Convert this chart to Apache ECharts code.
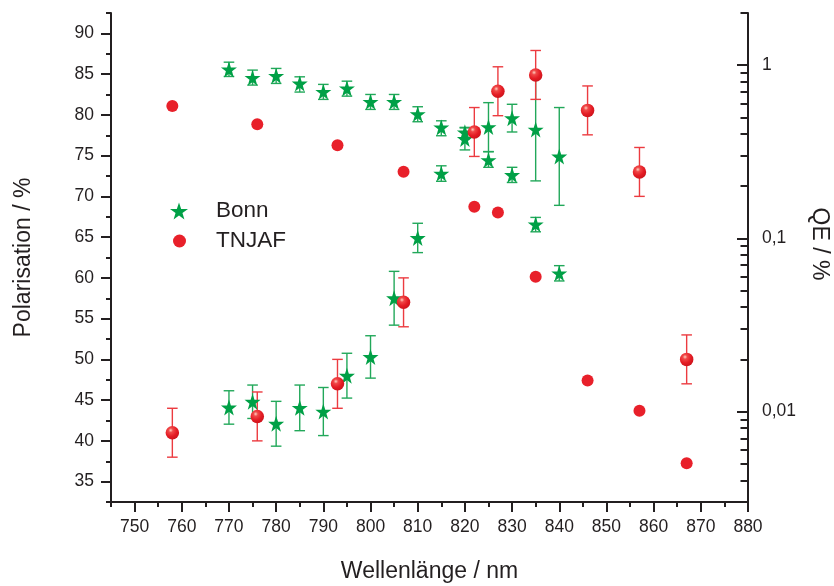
<!DOCTYPE html>
<html>
<head>
<meta charset="utf-8">
<script src="https://cdn.jsdelivr.net/npm/echarts@6/dist/echarts.min.js"></script>
<style>html,body{margin:0;padding:0;background:#fff}#chart{width:834px;height:586px}</style>
</head>
<body>
<div id="chart"></div>
<script>
// ---- data ----
const xBonn = [770, 775, 780, 785, 790, 795, 800, 805, 810, 815, 820, 825, 830, 835, 840];
const polBonn = [44.1, 44.8, 42.1, 44.05, 43.6, 48.0, 50.3, 57.5, 64.9, 72.8, 77.05, 78.5, 79.6, 78.2, 74.9];
const polBonnErr = [2.05, 2.05, 2.75, 2.8, 2.95, 2.75, 2.6, 3.3, 1.8, 0.95, 1.35, 3.0, 1.7, 6.3, 6.0];
const qeBonn = [0.945, 0.845, 0.868, 0.784, 0.701, 0.734, 0.614, 0.614, 0.522, 0.437, 0.409, 0.283, 0.232, 0.1205, 0.0628];
const qeBonnLow = [0.86, 0.767, 0.784, 0.699, 0.634, 0.662, 0.555, 0.555, 0.471, 0.391, 0.380, 0.257, 0.210, 0.109, 0.0567];
const qeBonnHigh = [1.04, 0.936, 0.957, 0.856, 0.774, 0.808, 0.677, 0.677, 0.575, 0.477, 0.437, 0.316, 0.257, 0.132, 0.0695];

const xTNJAF = [758, 776, 793, 807, 822, 827, 835, 846, 857, 867];
const polTNJAF = [41.0, 43.0, 47.0, 57.0, 77.9, 82.9, 84.9, 80.55, 73.0, 50.0];
const polTNJAFErr = [3, 3, 3, 3, 3, 3, 3, 3, 3, 3];
const qeTNJAF = [0.580, 0.455, 0.345, 0.242, 0.152, 0.141, 0.060, 0.0151, 0.0101, 0.00503];

const xTicks = [750, 760, 770, 780, 790, 800, 810, 820, 830, 840, 850, 860, 870, 880];
const xMinorTicks = [745, 755, 765, 775, 785, 795, 805, 815, 825, 835, 845, 855, 865, 875];
const polTicks = [35, 40, 45, 50, 55, 60, 65, 70, 75, 80, 85, 90];
const polMinorTicks = [32.5, 37.5, 42.5, 47.5, 52.5, 57.5, 62.5, 67.5, 72.5, 77.5, 82.5, 87.5, 92.5];
const qeTicks = [0.01, 0.1, 1];
const qeMinorTicks = [0.003, 0.004, 0.005, 0.006, 0.007, 0.008, 0.009,
  0.02, 0.03, 0.04, 0.05, 0.06, 0.07, 0.08, 0.09,
  0.2, 0.3, 0.4, 0.5, 0.6, 0.7, 0.8, 0.9, 2];

// ---- styling ----
const FONT = '"Liberation Sans", Arial, Helvetica, sans-serif';
const INK = '#231f20';
const GREEN = '#00a046';
const GREEN_BAR = '#22a85a';
const RED = '#e8202a';
const RED_BAR = '#ec3b40';
const STAR = 'path://M50,0 L61.8,35.1 L98.9,35.1 L68.8,57.3 L79.4,91.9 L50,70.5 L20.6,91.9 L31.2,57.3 L1.1,35.1 L38.2,35.1 Z';
const sphere = {
  type: 'radial', x: 0.38, y: 0.32, r: 0.75,
  colorStops: [
    {offset: 0, color: '#ffd0c0'},
    {offset: 0.22, color: '#f04848'},
    {offset: 0.6, color: '#e41c24'},
    {offset: 1, color: '#c8121a'}
  ]
};

function zip2(xs, ys) { return xs.map((x, i) => [x, ys[i]]); }
function errFromPm(xs, ys, es) { return xs.map((x, i) => [x, ys[i] - es[i], ys[i] + es[i]]); }
function errFromLH(xs, lo, hi) { return xs.map((x, i) => [x, lo[i], hi[i]]); }

function errRender(color) {
  return function (params, api) {
    const x = api.value(0), lo = api.value(1), hi = api.value(2);
    const p1 = api.coord([x, hi]);
    const p2 = api.coord([x, lo]);
    const w = 5.3;
    const style = {stroke: color, lineWidth: 1.4, fill: null};
    return {
      type: 'group',
      children: [
        {type: 'line', shape: {x1: p1[0], y1: p1[1], x2: p2[0], y2: p2[1]}, style: style},
        {type: 'line', shape: {x1: p1[0] - w, y1: p1[1], x2: p1[0] + w, y2: p1[1]}, style: style},
        {type: 'line', shape: {x1: p2[0] - w, y1: p2[1], x2: p2[0] + w, y2: p2[1]}, style: style}
      ]
    };
  };
}

const axisLine = {show: true, onZero: false, lineStyle: {color: INK, width: 2}};
const labelStyle = {color: INK, fontFamily: FONT, fontSize: 17.5};
const legendText = {color: INK, fontFamily: FONT, fontSize: 22.5, lineHeight: 24};

const chart = echarts.init(document.getElementById('chart'), null, {renderer: 'canvas'});
chart.setOption({
  backgroundColor: '#ffffff',
  animation: false,
  textStyle: {fontFamily: FONT},
  grid: {left: 111, right: 86, top: 13, bottom: 84, containLabel: false, outerBoundsMode: 'none'},
  legend: [
    {
      left: 170, top: 199, padding: 0, orient: 'vertical',
      itemWidth: 18, itemHeight: 18, selectedMode: false,
      textStyle: Object.assign({padding: [0, 0, 0, 23]}, legendText),
      data: [{name: 'Bonn', icon: STAR}]
    },
    {
      left: 173, top: 229, padding: 0, orient: 'vertical',
      itemWidth: 13, itemHeight: 13, selectedMode: false,
      textStyle: Object.assign({padding: [0, 0, 0, 25]}, legendText),
      data: [{name: 'TNJAF', icon: 'circle'}]
    }
  ],
  xAxis: [
    {
      type: 'value', min: 745, max: 880, position: 'bottom',
      name: 'Wellenlänge / nm', nameLocation: 'middle', nameGap: 58,
      nameTextStyle: {color: INK, fontFamily: FONT, fontSize: 23},
      axisLine: axisLine,
      axisTick: {show: true, inside: false, length: 10, lineStyle: {color: INK, width: 2}, customValues: xTicks},
      axisLabel: {show: true, margin: 16, customValues: xTicks, ...labelStyle},
      splitLine: {show: false}
    },
    {
      type: 'value', min: 745, max: 880, position: 'bottom',
      axisLine: {show: false},
      axisTick: {show: true, inside: false, length: 5, lineStyle: {color: INK, width: 2}, customValues: xMinorTicks},
      axisLabel: {show: false},
      splitLine: {show: false}
    }
  ],
  yAxis: [
    {
      type: 'value', min: 32.5, max: 92.5, position: 'left',
      name: 'Polarisation / %', nameLocation: 'middle', nameGap: 76,
      nameTextStyle: {color: INK, fontFamily: FONT, fontSize: 23},
      axisLine: axisLine,
      axisTick: {show: true, inside: false, length: 10, lineStyle: {color: INK, width: 2}, customValues: polTicks},
      axisLabel: {show: true, margin: 17, customValues: polTicks, ...labelStyle},
      splitLine: {show: false}
    },
    {
      type: 'value', min: 32.5, max: 92.5, position: 'left',
      axisLine: {show: false},
      axisTick: {show: true, inside: false, length: 5, lineStyle: {color: INK, width: 2}, customValues: polMinorTicks},
      axisLabel: {show: false},
      splitLine: {show: false}
    },
    {
      type: 'log', logBase: 10, min: 0.003, max: 2, position: 'right',
      axisLine: axisLine,
      axisTick: {show: true, inside: true, length: 11, lineStyle: {color: INK, width: 2}, customValues: qeTicks},
      axisLabel: {
        show: true, margin: 14, customValues: qeTicks, ...labelStyle,
        formatter: function (v) { return String(+v.toPrecision(6)).replace('.', ','); }
      },
      splitLine: {show: false}
    },
    {
      type: 'log', logBase: 10, min: 0.003, max: 2, position: 'right',
      axisLine: {show: false},
      axisTick: {show: true, inside: true, length: 7.5, lineStyle: {color: INK, width: 2}, customValues: qeMinorTicks},
      axisLabel: {show: false},
      splitLine: {show: false}
    }
  ],
  graphic: [{
    type: 'text', x: 819, y: 244, rotation: -Math.PI / 2,
    style: {text: 'QE / %', fill: INK, font: '23px ' + FONT, textAlign: 'center', textVerticalAlign: 'middle'}
  }],
  series: [
    {
      name: 'Bonn QE err', type: 'custom', xAxisIndex: 0, yAxisIndex: 2,
      renderItem: errRender(GREEN_BAR), encode: {x: 0, y: [1, 2]},
      data: errFromLH(xBonn, qeBonnLow, qeBonnHigh), silent: true
    },
    {
      name: 'Bonn Pol err', type: 'custom', xAxisIndex: 0, yAxisIndex: 0,
      renderItem: errRender(GREEN_BAR), encode: {x: 0, y: [1, 2]},
      data: errFromPm(xBonn, polBonn, polBonnErr), silent: true
    },
    {
      name: 'Bonn', type: 'scatter', xAxisIndex: 0, yAxisIndex: 2,
      symbol: STAR, symbolSize: 16, itemStyle: {color: GREEN, opacity: 1},
      data: zip2(xBonn, qeBonn)
    },
    {
      name: 'Bonn', type: 'scatter', xAxisIndex: 0, yAxisIndex: 0,
      symbol: STAR, symbolSize: 16, itemStyle: {color: GREEN, opacity: 1},
      data: zip2(xBonn, polBonn)
    },
    {
      name: 'TNJAF', type: 'scatter', xAxisIndex: 0, yAxisIndex: 2,
      symbol: 'circle', symbolSize: 12, itemStyle: {color: RED, opacity: 1},
      data: zip2(xTNJAF, qeTNJAF)
    },
    {
      name: 'TNJAF Pol err', type: 'custom', xAxisIndex: 0, yAxisIndex: 0,
      renderItem: errRender(RED_BAR), encode: {x: 0, y: [1, 2]},
      data: errFromPm(xTNJAF, polTNJAF, polTNJAFErr), silent: true
    },
    {
      name: 'TNJAF', type: 'scatter', xAxisIndex: 0, yAxisIndex: 0,
      symbol: 'circle', symbolSize: 13.5, itemStyle: {color: sphere, opacity: 1},
      data: zip2(xTNJAF, polTNJAF)
    }
  ]
});
</script>
</body>
</html>
